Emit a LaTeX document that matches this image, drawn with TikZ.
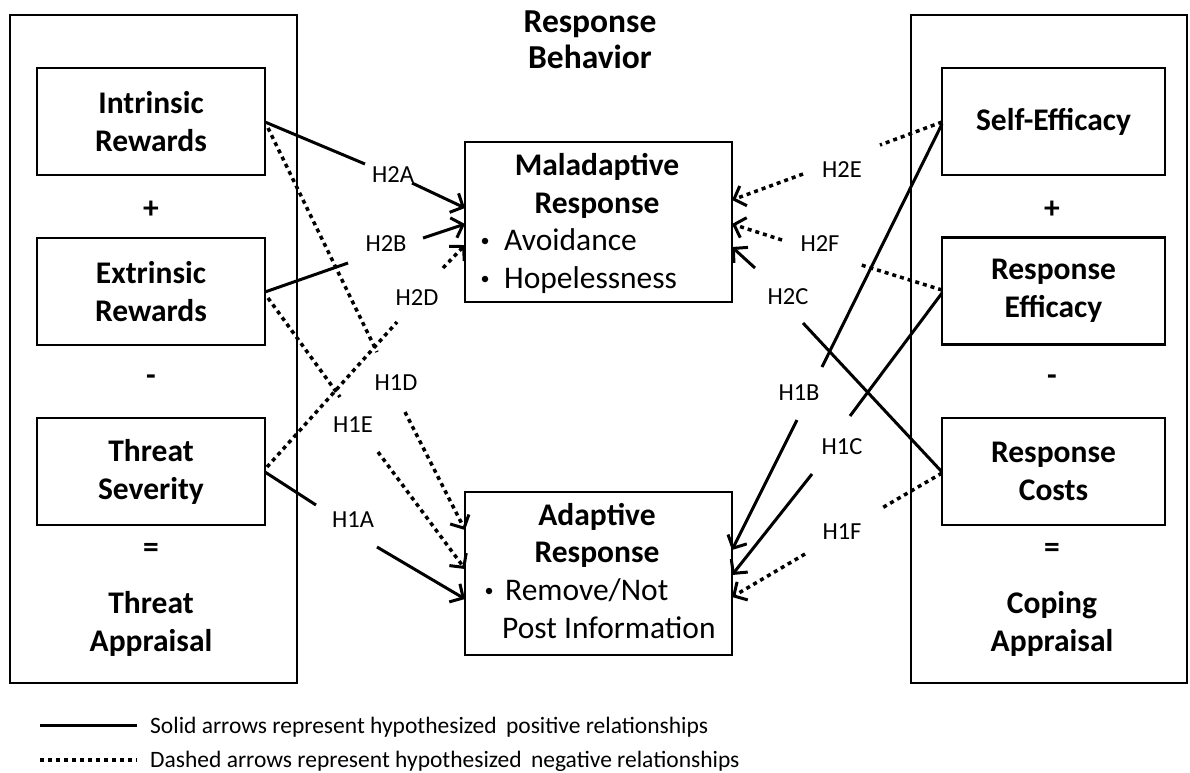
\documentclass[tikz,border=0pt]{standalone}
\usepackage{fontspec}
\setmainfont{Carlito}
\usetikzlibrary{arrows.meta}
\newcommand\dgBig{\fontsize{31.5}{38}\selectfont\bfseries}
\newcommand\dgTitle{\fontsize{33.5}{36}\selectfont\bfseries}
\newcommand\dgReg{\fontsize{31.5}{38}\selectfont}
\newcommand\dgLab{\fontsize{24.5}{28}\selectfont}
\newcommand\dgLeg{\fontsize{23.5}{26}\selectfont}
\begin{document}
\begin{tikzpicture}[x=1pt,y=-1pt,
  outer/.style={draw, line width=2.6pt},
  ibox/.style={draw, line width=2.6pt, minimum width=228pt, minimum height=107pt, inner sep=0pt, align=center, font=\dgBig},
  rbox/.style={draw, line width=2.6pt, minimum width=223pt, minimum height=107pt, inner sep=0pt, align=center, font=\dgBig},
  cbox/.style={draw, line width=2.6pt, minimum width=267pt, inner sep=0pt},
  btext/.style={font=\dgBig, inner sep=0pt, align=center},
  rtext/.style={font=\dgReg, inner sep=0pt},
  bul/.style={circle, fill, inner sep=0pt, minimum size=6.5pt},
  lab/.style={font=\dgLab, inner sep=1pt},
  posline/.style={line width=3pt},
  negline/.style={line width=3.5pt, dash pattern=on 4pt off 4pt},
  arr/.style={-{Straight Barb[length=10pt, width=21pt, line width=3pt]}},
]
\useasboundingbox (0,0) rectangle (1190,772);

% outer boxes
\node[outer, minimum width=287pt, minimum height=668pt, inner sep=0pt] (lout) at (153.5,349) {};
\node[outer, minimum width=276pt, minimum height=668pt, inner sep=0pt] (rout) at (1049,349) {};

% left inner boxes
\node[ibox] (ir) at (151,121.5) {Intrinsic\\Rewards};
\node[ibox] (er) at (151,291.5) {Extrinsic\\Rewards};
\node[ibox] (ts) at (151,471.5) {Threat\\Severity};
\node[btext] (lp) at (151,210) {+};
\node[btext] (lm) at (151,380) {-};
\node[btext] (le) at (151,550) {=};
\node[btext] (ta) at (151,624) {Threat\\Appraisal};

% right inner boxes
\node[rbox] (se) at (1053.5,121.5) {Self-Efficacy};
\node[rbox] (re) at (1053.5,291) {Response\\Efficacy};
\node[rbox] (rc) at (1053.5,471.5) {Response\\Costs};
\node[btext] (rp) at (1052,210) {+};
\node[btext] (rm) at (1052,380) {-};
\node[btext] (req) at (1052,550) {=};
\node[btext] (ca) at (1052,624) {Coping\\Appraisal};

% title
\node[font=\dgTitle, inner sep=0pt, align=center] (title) at (590,39.5) {Response\\Behavior};

% center boxes
\node[cbox, minimum height=160pt] (mal) at (598.5,222) {};
\node[btext, anchor=base] (mal1) at (597,175) {Maladaptive};
\node[btext, anchor=base] (mal2) at (597,213) {Response};
\node[bul] (mb1) at (485,241) {};
\node[rtext, anchor=base west] (mal3) at (504,250) {Avoidance};
\node[bul] (mb2) at (485,279) {};
\node[rtext, anchor=base west] (mal4) at (504,288) {Hopelessness};

\node[cbox, minimum height=163pt] (ada) at (598.5,573.5) {};
\node[btext, anchor=base] (ada1) at (597,525) {Adaptive};
\node[btext, anchor=base] (ada2) at (597,562) {Response};
\node[bul] (ab1) at (489,591) {};
\node[rtext, anchor=base west] (ada3) at (505,600) {Remove/Not};
\node[rtext, anchor=base west] (ada4) at (502,638) {Post Information};

% ---------- left arrows ----------
% H2A
\coordinate (h2as) at (265,122);
\coordinate (h2aa) at (365,164);
\node[lab] (h2a) at (393,175) {H2A};
\coordinate (h2ab) at (412,183);
\coordinate (h2at) at (465,208);
\draw[posline] (h2as) -- (h2aa);
\draw[posline,arr] (h2ab) -- (h2at);
% H2B
\coordinate (h2bs) at (265,292);
\coordinate (h2ba) at (348,263);
\node[lab] (h2b) at (386,244) {H2B};
\coordinate (h2bb) at (423,238);
\coordinate (h2bt) at (465,224);
\draw[posline] (h2bs) -- (h2ba);
\draw[posline,arr] (h2bb) -- (h2bt);
% H2D
\coordinate (h2ds) at (267,467);
\coordinate (h2da) at (397,322);
\node[lab] (h2d) at (417,298) {H2D};
\coordinate (h2db) at (443,268);
\coordinate (h2dt) at (465,245);
\draw[negline] (h2ds) -- (h2da);
\draw[negline,arr] (h2db) -- (h2dt);
% H1D
\coordinate (h1ds) at (268,128);
\coordinate (h1da) at (377,352);
\node[lab] (h1d) at (396,383) {H1D};
\coordinate (h1db) at (405,412);
\coordinate (h1dt) at (465,530);
\draw[negline] (h1ds) -- (h1da);
\draw[negline,arr] (h1db) -- (h1dt);
% H1E
\coordinate (h1es) at (268,298);
\coordinate (h1ea) at (340,397);
\node[lab] (h1e) at (353,425) {H1E};
\coordinate (h1eb) at (378,452);
\coordinate (h1et) at (465,569);
\draw[negline] (h1es) -- (h1ea);
\draw[negline,arr] (h1eb) -- (h1et);
% H1A
\coordinate (h1as) at (265,472);
\coordinate (h1aa) at (316,505);
\node[lab] (h1a) at (353,520) {H1A};
\coordinate (h1ab) at (377,547);
\coordinate (h1at) at (465,599);
\draw[posline] (h1as) -- (h1aa);
\draw[posline,arr] (h1ab) -- (h1at);

% ---------- right arrows ----------
% H2E
\coordinate (h2es) at (942,122);
\coordinate (h2ea) at (880,145);
\node[lab] (h2e) at (842,170) {H2E};
\coordinate (h2eb) at (803,174);
\coordinate (h2et) at (732,200);
\draw[negline] (h2es) -- (h2ea);
\draw[negline,arr] (h2eb) -- (h2et);
% H2F
\coordinate (h2fs) at (942,290);
\coordinate (h2fa) at (858,264);
\node[lab] (h2f) at (820,244) {H2F};
\coordinate (h2fb) at (782,240);
\coordinate (h2ft) at (732,224);
\draw[negline] (h2fs) -- (h2fa);
\draw[negline,arr] (h2fb) -- (h2ft);
% H2C
\coordinate (h2cs) at (942,472);
\coordinate (h2ca) at (803,323);
\node[lab] (h2c) at (788,297) {H2C};
\coordinate (h2cb) at (755,268);
\coordinate (h2ct) at (732,247);
\draw[posline] (h2cs) -- (h2ca);
\draw[posline,arr] (h2cb) -- (h2ct);
% H1B
\coordinate (h1bs) at (942,124);
\coordinate (h1ba) at (822,367);
\node[lab] (h1b) at (799,393) {H1B};
\coordinate (h1bb) at (797,420);
\coordinate (h1bt) at (732,550);
\draw[posline] (h1bs) -- (h1ba);
\draw[posline,arr] (h1bb) -- (h1bt);
% H1C
\coordinate (h1cs) at (942,293);
\coordinate (h1ca) at (850,416);
\node[lab] (h1c) at (842,447) {H1C};
\coordinate (h1cb) at (812,474);
\coordinate (h1ct) at (732,575);
\draw[posline] (h1cs) -- (h1ca);
\draw[posline,arr] (h1cb) -- (h1ct);
% H1F
\coordinate (h1fs) at (942,473);
\coordinate (h1fa) at (882,508);
\node[lab] (h1f) at (842,532) {H1F};
\coordinate (h1fb) at (805,554);
\coordinate (h1ft) at (732,597);
\draw[negline] (h1fs) -- (h1fa);
\draw[negline,arr] (h1fb) -- (h1ft);

% legend
\coordinate (l1a) at (40,725);
\coordinate (l1b) at (137,725);
\draw[posline] (l1a) -- (l1b);
\node[font=\dgLeg, anchor=base west, inner sep=0pt] (leg1) at (150,733) {Solid arrows represent hypothesized\hspace{4pt} positive relationships};
\coordinate (l2a) at (40,760);
\coordinate (l2b) at (137,760);
\draw[negline] (l2a) -- (l2b);
\node[font=\dgLeg, anchor=base west, inner sep=0pt] (leg2) at (150,767) {Dashed arrows represent hypothesized\hspace{4pt} negative relationships};
\end{tikzpicture}
\end{document}
